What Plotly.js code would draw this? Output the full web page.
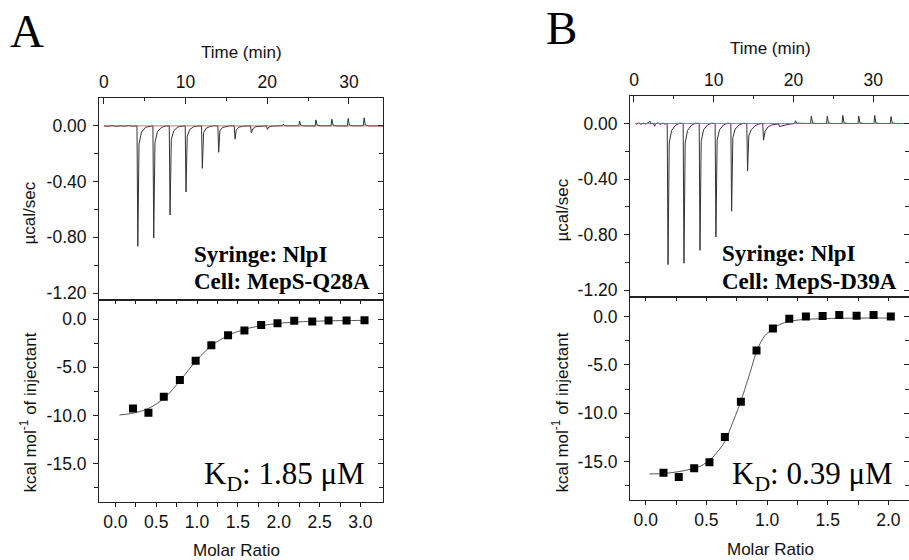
<!DOCTYPE html>
<html>
<head>
<meta charset="utf-8">
<script src="https://cdn.plot.ly/plotly-3.0.1.min.js"></script>
<style>html,body{margin:0;padding:0;background:#fff;}#chart{width:909px;height:560px;}</style>
</head>
<body>
<div id="chart"></div>
<script>
// ---------- DATA ----------
// Panel A: raw thermogram (time in min, heat in µcal/sec)
const thermoTimeA = [0,0.5,1.0,1.5,2.0,2.5,3.0,3.5,4.05,
  4.15,4.3,4.6,5.1,5.6,6.0,
  6.1,6.25,6.55,7.05,7.55,8.0,
  8.1,8.25,8.55,9.05,9.55,9.95,
  10.05,10.2,10.5,11.0,11.5,11.95,
  12.05,12.2,12.5,13.0,13.5,13.95,
  14.05,14.2,14.5,15.0,15.5,15.95,
  16.05,16.2,16.5,17.0,17.95,
  18.05,18.25,18.6,19.2,19.9,
  20.0,20.2,20.6,21.85,
  21.95,22.15,22.6,23.85,
  23.95,24.1,24.5,25.85,
  25.95,26.1,26.5,27.8,
  27.9,28.05,28.45,29.8,
  29.9,30.05,30.45,31.75,
  31.85,32.0,32.4,33.2,34.2];
const thermoHeatA = [0,-0.003,0.002,-0.004,0.001,-0.003,0.002,-0.002,0,
  -0.865,-0.13,-0.045,-0.01,-0.002,0,
  -0.805,-0.12,-0.042,-0.01,-0.002,0,
  -0.64,-0.1,-0.035,-0.008,-0.002,0,
  -0.475,-0.075,-0.027,-0.006,-0.001,0,
  -0.305,-0.05,-0.018,-0.004,0.001,0,
  -0.19,-0.035,-0.012,-0.003,0.001,0,
  -0.095,-0.03,-0.01,-0.003,0,
  -0.05,-0.02,-0.006,-0.001,0,
  -0.025,-0.008,-0.002,0.001,
  0.012,0.002,0,0.001,
  0.035,0.004,0,-0.001,
  0.043,0.005,0,0.001,
  0.048,0.005,0,-0.001,
  0.053,0.006,0,0.001,
  0.058,0.006,0,-0.001,0];
const baselineTimeA = [0, 34.2];
const baselineHeatA = [0, 0];

// Panel A: integrated heats
const molarRatioA = [0.216,0.405,0.593,0.790,0.983,1.175,1.38,1.58,1.785,1.985,2.19,2.41,2.61,2.83,3.05];
const enthalpyA = [-9.27,-9.72,-8.06,-6.32,-4.31,-2.71,-1.67,-1.18,-0.59,-0.42,-0.17,-0.24,-0.14,-0.14,-0.10];
const fitRatioA = [0.05,0.2,0.4,0.6,0.8,1.0,1.2,1.4,1.6,1.8,2.0,2.2,2.4,2.6,2.8,3.05];
const fitEnthalpyA = [-9.95,-9.8,-9.3,-8.2,-6.3,-4.2,-2.6,-1.6,-1.0,-0.65,-0.42,-0.3,-0.22,-0.17,-0.14,-0.12];

// Panel B: raw thermogram
const thermoTimeB = [0.2,0.3,0.6,0.9,1.2,1.5,1.8,2.0,2.1,2.4,2.6,2.7,3.0,3.3,3.6,3.9,4.17,
  4.27,4.42,4.72,5.22,5.72,6.17,
  6.27,6.42,6.72,7.22,7.72,8.18,
  8.28,8.43,8.73,9.23,9.73,10.18,
  10.28,10.43,10.73,11.23,11.73,12.15,
  12.25,12.4,12.7,13.2,13.7,14.15,
  14.25,14.4,14.7,15.2,15.7,16.15,
  16.25,16.45,16.8,17.3,17.8,18.15,
  18.25,18.6,19.2,19.8,20.15,
  20.25,20.4,21.0,21.6,22.15,
  22.25,22.4,22.8,23.5,24.15,
  24.25,24.4,24.8,25.5,26.1,
  26.2,26.35,26.75,27.5,28.1,
  28.2,28.35,28.75,29.5,30.1,
  30.2,30.35,30.75,31.5,32.15,
  32.25,32.4,32.8,33.6,34.5];
const thermoHeatB = [0,-0.005,0.004,-0.006,0.003,-0.004,0.006,0.018,-0.003,0.002,-0.02,-0.004,0.005,-0.006,0.003,-0.004,0,
  -1.015,-0.14,-0.05,-0.012,0.002,0,
  -1.005,-0.14,-0.05,-0.012,0.002,0,
  -0.912,-0.13,-0.045,-0.01,0.002,0,
  -0.816,-0.12,-0.045,-0.01,0.002,0,
  -0.631,-0.1,-0.04,-0.01,0.001,0,
  -0.341,-0.09,-0.045,-0.015,-0.003,0,
  -0.12,-0.055,-0.025,-0.01,-0.004,-0.003,
  -0.022,-0.015,-0.008,-0.003,0,
  0.02,0.003,0.001,-0.002,0,
  0.053,0.005,0,-0.002,0,
  0.053,0.005,0,-0.002,0,
  0.058,0.005,0,-0.002,0,
  0.053,0.005,0,-0.002,0,
  0.058,0.005,0,-0.002,0,
  0.05,0.005,0,-0.002,0];
const baselineTimeB = [0.2, 34.5];
const baselineHeatB = [0, 0];

// Panel B: integrated heats
const molarRatioB = [0.146,0.272,0.399,0.525,0.652,0.784,0.913,1.048,1.183,1.32,1.458,1.595,1.738,1.878,2.02];
const enthalpyB = [-16.17,-16.62,-15.72,-15.1,-12.48,-8.83,-3.52,-1.24,-0.21,0.0,0.07,0.17,0.1,0.17,0.0];
const fitRatioB = [0.03,0.15,0.3,0.45,0.55,0.65,0.7,0.78,0.85,0.92,0.98,1.05,1.1,1.15,1.2,1.3,1.5,1.8,2.03];
const fitEnthalpyB = [-16.3,-16.25,-16.0,-15.5,-14.6,-13.0,-11.5,-8.9,-6.2,-3.4,-2.0,-1.25,-0.85,-0.6,-0.45,-0.3,-0.2,-0.15,-0.15];

// Tick labels
const timeTicks = [0,10,20,30];
const timeTickText = ['0','10','20','30'];
const timeMinor = [5,15,25];
const heatTicks = [0,-0.4,-0.8,-1.2];
const heatTickText = ['0.00','-0.40','-0.80','-1.20'];
const heatMinor = [-0.2,-0.6,-1.0];
const enthTicks = [0,-5,-10,-15];
const enthTickText = ['0.0','-5.0','-10.0','-15.0'];
const enthMinor = [-2.5,-7.5,-12.5,-17.5];
const ratioTicksA = [0,0.5,1,1.5,2,2.5,3];
const ratioTickTextA = ['0.0','0.5','1.0','1.5','2.0','2.5','3.0'];
const ratioMinorA = [0.25,0.75,1.25,1.75,2.25,2.75];
const ratioTicksB = [0,0.5,1,1.5,2];
const ratioTickTextB = ['0.0','0.5','1.0','1.5','2.0'];
const ratioMinorB = [0.25,0.75,1.25,1.75];

// ---------- LAYOUT HELPERS ----------
const W = 909, H = 560;
const px = x => x / W;
const py = y => 1 - y / H;
const SANS = 'Liberation Sans, Arial, sans-serif';
const SERIF = 'Liberation Serif, Times New Roman, serif';
const TICKFONT = {family: SANS, size: 17.5, color: '#111'};
const LC = '#222';

function baseAxis(extra) {
  return Object.assign({
    showline: true, linecolor: LC, linewidth: 1, showgrid: false, zeroline: false,
    tickcolor: LC, tickwidth: 1, tickfont: TICKFONT, fixedrange: true, autorange: false
  }, extra);
}
function minorTicks(vals, dir, len) {
  return {tickvals: vals, ticks: dir, ticklen: len, tickcolor: LC, tickwidth: 1, showgrid: false};
}

const domA = [px(99), px(383.3)];
const domB = [px(630), 1];
const topA = [py(300), py(98)];
const botA = [py(502), py(300)];
const topB = [py(297.3), py(95.7)];
const botB = [py(500), py(297.3)];

const layout = {
  width: W, height: H,
  margin: {l: 0, r: 0, t: 0, b: 0},
  paper_bgcolor: '#fff', plot_bgcolor: 'rgba(0,0,0,0)',
  showlegend: false,
  // ---- Panel A, thermogram
  xaxis: baseAxis({domain: domA, range: [-0.6, 34.2], side: 'top', anchor: 'y', mirror: true,
    ticks: 'inside', ticklen: 6, tickmode: 'array', tickvals: timeTicks, ticktext: timeTickText,
    ticklabelstandoff: 2, minor: minorTicks(timeMinor, 'inside', 3)}),
  yaxis: baseAxis({domain: topA, range: [-1.25, 0.2], anchor: 'x', side: 'left', mirror: true,
    ticks: 'outside', ticklen: 5, tickmode: 'array', tickvals: heatTicks, ticktext: heatTickText,
    ticklabelstandoff: 3, minor: minorTicks(heatMinor, 'outside', 4)}),
  yaxis2: baseAxis({overlaying: 'y', range: [-1.25, 0.2], anchor: 'x', side: 'right', showline: false,
    ticks: 'inside', ticklen: 5, tickmode: 'array', tickvals: heatTicks, showticklabels: false,
    minor: minorTicks(heatMinor, 'inside', 4)}),
  // ---- Panel A, isotherm
  xaxis2: baseAxis({domain: domA, range: [-0.2, 3.28], anchor: 'y3', side: 'bottom', mirror: true,
    ticks: 'outside', ticklen: 4, tickmode: 'array', tickvals: ratioTicksA, ticktext: ratioTickTextA,
    minor: minorTicks(ratioMinorA, 'outside', 4)}),
  xaxis3: baseAxis({overlaying: 'x2', range: [-0.2, 3.28], anchor: 'y3', side: 'top', showline: false,
    ticks: 'inside', ticklen: 4, tickmode: 'array', tickvals: ratioTicksA, showticklabels: false,
    minor: minorTicks(ratioMinorA, 'inside', 4)}),
  yaxis3: baseAxis({domain: botA, range: [-19, 2], anchor: 'x2', side: 'left', mirror: true,
    ticks: 'outside', ticklen: 5, tickmode: 'array', tickvals: enthTicks, ticktext: enthTickText,
    ticklabelstandoff: 3, minor: minorTicks(enthMinor, 'outside', 4)}),
  yaxis4: baseAxis({overlaying: 'y3', range: [-19, 2], anchor: 'x2', side: 'right', showline: false,
    ticks: 'inside', ticklen: 5, tickmode: 'array', tickvals: enthTicks, showticklabels: false,
    minor: minorTicks(enthMinor, 'inside', 4)}),
  // ---- Panel B, thermogram
  xaxis4: baseAxis({domain: domB, range: [-0.5, 34.5], side: 'top', anchor: 'y5', mirror: true,
    ticks: 'inside', ticklen: 6, tickmode: 'array', tickvals: timeTicks, ticktext: timeTickText,
    ticklabelstandoff: 2, minor: minorTicks(timeMinor, 'inside', 3)}),
  yaxis5: baseAxis({domain: topB, range: [-1.25, 0.2], anchor: 'x4', side: 'left', mirror: true,
    ticks: 'outside', ticklen: 5, tickmode: 'array', tickvals: heatTicks, ticktext: heatTickText,
    ticklabelstandoff: 3, minor: minorTicks(heatMinor, 'outside', 4)}),
  yaxis6: baseAxis({overlaying: 'y5', range: [-1.25, 0.2], anchor: 'x4', side: 'right', showline: false,
    ticks: 'inside', ticklen: 5, tickmode: 'array', tickvals: heatTicks, showticklabels: false,
    minor: minorTicks(heatMinor, 'inside', 4)}),
  // ---- Panel B, isotherm
  xaxis5: baseAxis({domain: domB, range: [-0.13, 2.17], anchor: 'y7', side: 'bottom', mirror: true,
    ticks: 'outside', ticklen: 4, tickmode: 'array', tickvals: ratioTicksB, ticktext: ratioTickTextB,
    minor: minorTicks(ratioMinorB, 'outside', 4)}),
  xaxis6: baseAxis({overlaying: 'x5', range: [-0.13, 2.17], anchor: 'y7', side: 'top', showline: false,
    ticks: 'inside', ticklen: 4, tickmode: 'array', tickvals: ratioTicksB, showticklabels: false,
    minor: minorTicks(ratioMinorB, 'inside', 4)}),
  yaxis7: baseAxis({domain: botB, range: [-19, 2], anchor: 'x5', side: 'left', mirror: true,
    ticks: 'outside', ticklen: 5, tickmode: 'array', tickvals: enthTicks, ticktext: enthTickText,
    ticklabelstandoff: 3, minor: minorTicks(enthMinor, 'outside', 4)}),
  yaxis8: baseAxis({overlaying: 'y7', range: [-19, 2], anchor: 'x5', side: 'right', showline: false,
    ticks: 'inside', ticklen: 5, tickmode: 'array', tickvals: enthTicks, showticklabels: false,
    minor: minorTicks(enthMinor, 'inside', 4)}),
  annotations: []
};

function note(text, x, y, opts) {
  layout.annotations.push(Object.assign({
    text: text, xref: 'paper', yref: 'paper', x: px(x), y: py(y),
    xanchor: 'center', yanchor: 'middle', showarrow: false,
    font: {family: SANS, size: 17, color: '#111'}
  }, opts || {}));
}
// Panel letters
note('A', 26.5, 31, {font: {family: SERIF, size: 47, color: '#000'}});
note('B', 561.7, 27.5, {font: {family: SERIF, size: 47, color: '#000'}});
// Axis titles
note('Time (min)', 241.7, 52.5);
note('Time (min)', 770, 48.5);
note('µcal/sec', 28.5, 213, {textangle: -90});
note('µcal/sec', 561.5, 210, {textangle: -90});
note('kcal mol<sup>-1</sup> of injectant', 28.5, 413, {textangle: -90});
note('kcal mol<sup>-1</sup> of injectant', 560.5, 413, {textangle: -90});
note('Molar Ratio', 236.7, 550);
note('Molar Ratio', 770, 549);
// Inset labels
const boldSerif = {family: SERIF, size: 23, color: '#000', weight: 'bold'};
note('<b>Syringe: NlpI</b>', 192, 254.5, {xanchor: 'left', font: boldSerif});
note('<b>Cell: MepS-Q28A</b>', 192, 281.8, {xanchor: 'left', font: boldSerif});
note('<b>Syringe: NlpI</b>', 720, 253.8, {xanchor: 'left', font: boldSerif});
note('<b>Cell: MepS-D39A</b>', 720, 281.3, {xanchor: 'left', font: boldSerif});
note('K<sub>D</sub>: 1.85 μM', 202, 476, {xanchor: 'left', font: {family: SERIF, size: 31, color: '#000'}});
note('K<sub>D</sub>: 0.39 μM', 730, 476, {xanchor: 'left', font: {family: SERIF, size: 31, color: '#000'}});

// ---------- TRACES ----------
const thermoLine = {color: '#333', width: 1};
const baseLine = {color: 'rgba(225,70,70,0.8)', width: 1};
const fitLine = {color: '#555', width: 1};
const sq = {symbol: 'square', size: 8, color: '#000'};
const hidden = {mode: 'lines', line: {width: 0}, opacity: 0, hoverinfo: 'skip'};

const traces = [
  // Panel A
  {x: thermoTimeA, y: thermoHeatA, xaxis: 'x', yaxis: 'y', mode: 'lines', line: thermoLine, hoverinfo: 'skip'},
  {x: baselineTimeA, y: baselineHeatA, xaxis: 'x', yaxis: 'y2', mode: 'lines', line: baseLine, hoverinfo: 'skip'},
  {x: fitRatioA, y: fitEnthalpyA, xaxis: 'x2', yaxis: 'y3', mode: 'lines', line: Object.assign({shape: 'spline', smoothing: 0.8}, fitLine), hoverinfo: 'skip'},
  Object.assign({x: fitRatioA, y: fitEnthalpyA, xaxis: 'x3', yaxis: 'y3'}, hidden),
  {x: molarRatioA, y: enthalpyA, xaxis: 'x2', yaxis: 'y4', mode: 'markers', marker: sq},
  // Panel B
  {x: thermoTimeB, y: thermoHeatB, xaxis: 'x4', yaxis: 'y5', mode: 'lines', line: thermoLine, hoverinfo: 'skip'},
  {x: baselineTimeB, y: baselineHeatB, xaxis: 'x4', yaxis: 'y6', mode: 'lines', line: baseLine, hoverinfo: 'skip'},
  {x: fitRatioB, y: fitEnthalpyB, xaxis: 'x5', yaxis: 'y7', mode: 'lines', line: Object.assign({shape: 'spline', smoothing: 0.8}, fitLine), hoverinfo: 'skip'},
  Object.assign({x: fitRatioB, y: fitEnthalpyB, xaxis: 'x6', yaxis: 'y7'}, hidden),
  {x: molarRatioB, y: enthalpyB, xaxis: 'x5', yaxis: 'y8', mode: 'markers', marker: sq}
];

Plotly.newPlot('chart', traces, layout, {displayModeBar: false, staticPlot: true});
</script>
</body>
</html>
